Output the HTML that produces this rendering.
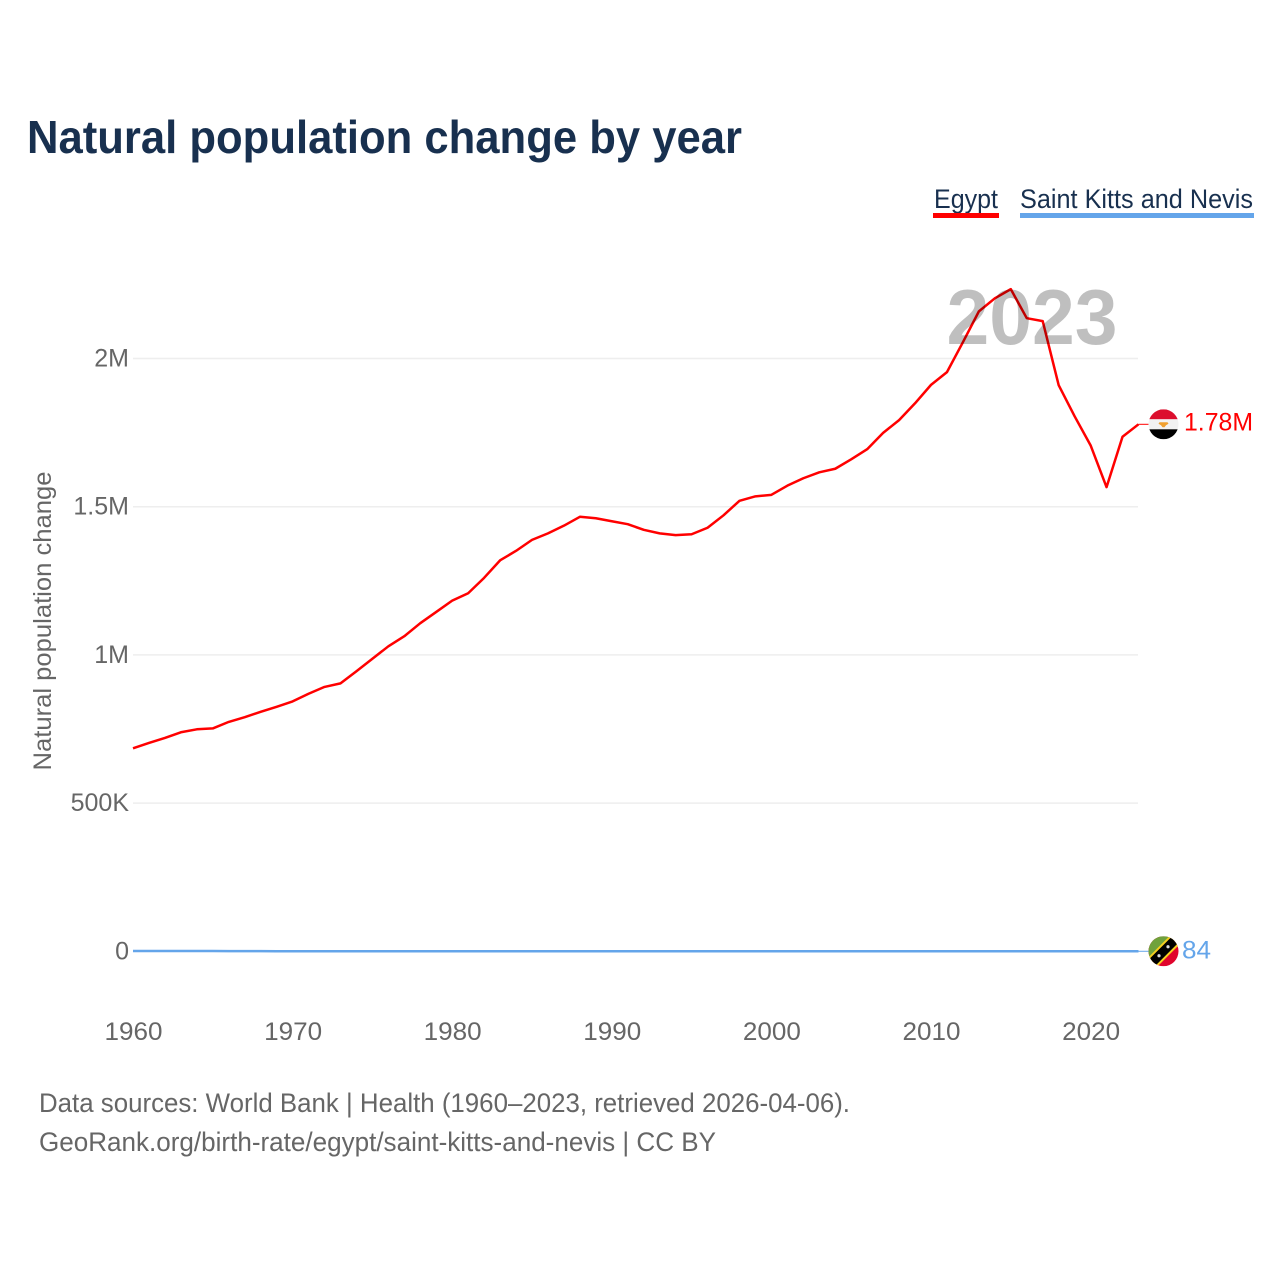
<!DOCTYPE html>
<html lang="en">
<head>
<meta charset="utf-8">
<title>Natural population change by year</title>
<style>
html,body{margin:0;padding:0;background:#fff}
svg{display:block;font-family:"Liberation Sans",sans-serif}
</style>
</head>
<body>
<svg id="chart" xmlns="http://www.w3.org/2000/svg" width="1280" height="1280" viewBox="0 0 1280 1280">
  <defs>
    <clipPath id="egypt-clip"><circle cx="0" cy="0" r="15"/></clipPath>
    <clipPath id="skn-clip"><circle cx="0" cy="0" r="15"/></clipPath>
  </defs>
  <rect width="1280" height="1280" fill="#fff"/>
  <text x="27" y="153" font-size="46" font-weight="700" fill="#18304f" textLength="715" lengthAdjust="spacingAndGlyphs">Natural population change by year</text>

  <g>
    <g>
      <text x="934" y="208" font-size="27" fill="#18304f" textLength="64" lengthAdjust="spacingAndGlyphs">Egypt</text>
      <rect x="933" y="213" width="66" height="5" fill="#ff0000"/>
    </g>
    <g>
      <text x="1020" y="208" font-size="27" fill="#18304f" textLength="233" lengthAdjust="spacingAndGlyphs">Saint Kitts and Nevis</text>
      <rect x="1020" y="213" width="234" height="5" fill="#64a5ea"/>
    </g>
  </g>

  <g id="grid"></g>
  <g id="y-axis"></g>
  <g id="x-axis"></g>
  <text transform="translate(51,621) rotate(-90)" text-anchor="middle" font-size="25" fill="#666" textLength="299" lengthAdjust="spacingAndGlyphs">Natural population change</text>
  <g id="series"></g>
  <text id="year-label" x="1032" y="344" text-anchor="middle" font-size="78" font-weight="700" fill="#000" fill-opacity="0.25" textLength="171" lengthAdjust="spacingAndGlyphs">2023</text>

  <g id="flag-egypt">
    <g clip-path="url(#egypt-clip)">
      <rect x="-15" y="-15" width="30" height="10" fill="#dc0f2e"/>
      <rect x="-15" y="-5" width="30" height="10" fill="#f2f2f2"/>
      <rect x="-15" y="5" width="30" height="10" fill="#000"/>
      <path d="M-4 -2 L4 -2 L5 -0.5 L2.5 1 L1 3 L-1 3 L-2.5 1 L-5 -0.5 Z" fill="#f0a030"/>
    </g>
  </g>
  <g id="flag-skn">
    <g clip-path="url(#skn-clip)">
      <rect x="-15" y="-15" width="30" height="30" fill="#e0042c"/>
      <path d="M-15 -15 H15 L-15 15 Z" fill="#6fa23c"/>
      <path d="M-15 15 L15 -15" stroke="#f5d020" stroke-width="13"/>
      <path d="M-15 15 L15 -15" stroke="#000" stroke-width="9"/>
      <circle cx="-4.5" cy="4.5" r="1.6" fill="#ddd"/>
      <circle cx="4.5" cy="-4.5" r="1.6" fill="#ddd"/>
    </g>
  </g>
  <text id="value-egypt" x="1184" font-size="25" fill="#ff0000" textLength="69" lengthAdjust="spacingAndGlyphs">1.78M</text>
  <text id="value-skn" x="1182" font-size="25" fill="#64a5ea" textLength="29" lengthAdjust="spacingAndGlyphs">84</text>

  <g>
    <text x="39" y="1112" font-size="27" fill="#666" textLength="811" lengthAdjust="spacingAndGlyphs">Data sources: World Bank | Health (1960–2023, retrieved 2026-04-06).</text>
    <text x="39" y="1151" font-size="27" fill="#666" textLength="677" lengthAdjust="spacingAndGlyphs">GeoRank.org/birth-rate/egypt/saint-kitts-and-nevis | CC BY</text>
  </g>
</svg>
<script>
var startYear = 1960;
var xTicks = [1960, 1970, 1980, 1990, 2000, 2010, 2020];
var yTicks = [0, 500000, 1000000, 1500000, 2000000];
var yTickLabels = ["0", "500K", "1M", "1.5M", "2M"];
var egyptValues = [685000,703000,720000,739000,749000,752000,774000,790000,808000,825000,843000,869000,892000,904000,945000,987000,1029000,1063000,1107000,1145000,1183000,1208000,1260000,1319000,1351000,1388000,1410000,1436000,1466000,1461000,1451000,1441000,1422000,1410000,1404000,1407000,1429000,1471000,1520000,1535000,1540000,1571000,1596000,1616000,1628000,1660000,1694000,1749000,1792000,1849000,1911000,1954000,2055000,2159000,2203000,2234000,2136000,2126000,1910000,1805000,1707000,1566000,1736000,1778000];
var sknValues = [900,880,860,840,820,800,650,500,400,350,330,320,310,300,300,300,300,300,290,290,280,280,280,280,270,270,270,260,260,260,260,250,250,250,250,250,250,240,240,240,240,230,230,230,220,220,210,210,200,190,180,170,160,150,150,140,140,130,120,110,90,60,70,84];

function xScale(year) { return 133 + (year - 1960) * 15.96; }
function yScale(value) { return 951.3 - value * 0.0002964; }

var svg = document.getElementById('chart');
var NS = 'http://www.w3.org/2000/svg';
var gridGroup = document.getElementById('grid');
var yGroup = document.getElementById('y-axis');
var xGroup = document.getElementById('x-axis');
var seriesGroup = document.getElementById('series');

yTicks.forEach(function (v, i) {
  if (v !== 0) {
    var g = document.createElementNS(NS, 'line');
    
    
    g.setAttribute('x1', 133);
    g.setAttribute('x2', 1138);
    g.setAttribute('y1', yScale(v));
    g.setAttribute('y2', yScale(v));
    g.setAttribute('stroke', '#eeeeee');
    g.setAttribute('stroke-width', 1.5);
    gridGroup.appendChild(g);
  }
  var t = document.createElementNS(NS, 'text');
  
  
  t.setAttribute('x', 129);
  t.setAttribute('y', yScale(v) + 8);
  t.setAttribute('text-anchor', 'end');
  t.setAttribute('font-size', 25);
  t.setAttribute('fill', '#666');
  t.textContent = yTickLabels[i];
  yGroup.appendChild(t);
});

xTicks.forEach(function (year) {
  var t = document.createElementNS(NS, 'text');
  
  
  t.setAttribute('x', xScale(year) + 0.5);
  t.setAttribute('y', 1040);
  t.setAttribute('text-anchor', 'middle');
  t.setAttribute('font-size', 25);
  t.setAttribute('fill', '#666');
  t.setAttribute('textLength', 58);
  t.setAttribute('lengthAdjust', 'spacingAndGlyphs');
  t.textContent = year;
  xGroup.appendChild(t);
});

function drawSeries(values, color, name) {
  var pts = values.map(function (v, i) {
    return xScale(startYear + i).toFixed(2) + ',' + yScale(v).toFixed(2);
  }).join(' ');
  var line = document.createElementNS(NS, 'polyline');
  
  
  line.setAttribute('points', pts);
  line.setAttribute('fill', 'none');
  line.setAttribute('stroke', color);
  line.setAttribute('stroke-width', 2.5);
  line.setAttribute('stroke-linejoin', 'round');
  seriesGroup.appendChild(line);

  var lastIndex = values.length - 1;
  var lx = xScale(startYear + lastIndex);
  var ly = yScale(values[lastIndex]);
  var lead = document.createElementNS(NS, 'line');
  
  
  lead.setAttribute('x1', lx);
  lead.setAttribute('x2', lx + 10);
  lead.setAttribute('y1', ly);
  lead.setAttribute('y2', ly);
  lead.setAttribute('stroke', color);
  lead.setAttribute('stroke-width', 1);
  seriesGroup.appendChild(lead);
  return ly;
}

var egyptY = drawSeries(egyptValues, '#ff0000', 'egypt-line');
var sknY = drawSeries(sknValues, '#64a5ea', 'saint-kitts-and-nevis-line');

document.getElementById('flag-egypt').setAttribute('transform', 'translate(1163.5,' + egyptY + ')');
document.getElementById('flag-skn').setAttribute('transform', 'translate(1163.5,' + sknY + ')');
document.getElementById('value-egypt').setAttribute('y', egyptY + 6);
document.getElementById('value-skn').setAttribute('y', sknY + 7);
</script>
</body>
</html>
